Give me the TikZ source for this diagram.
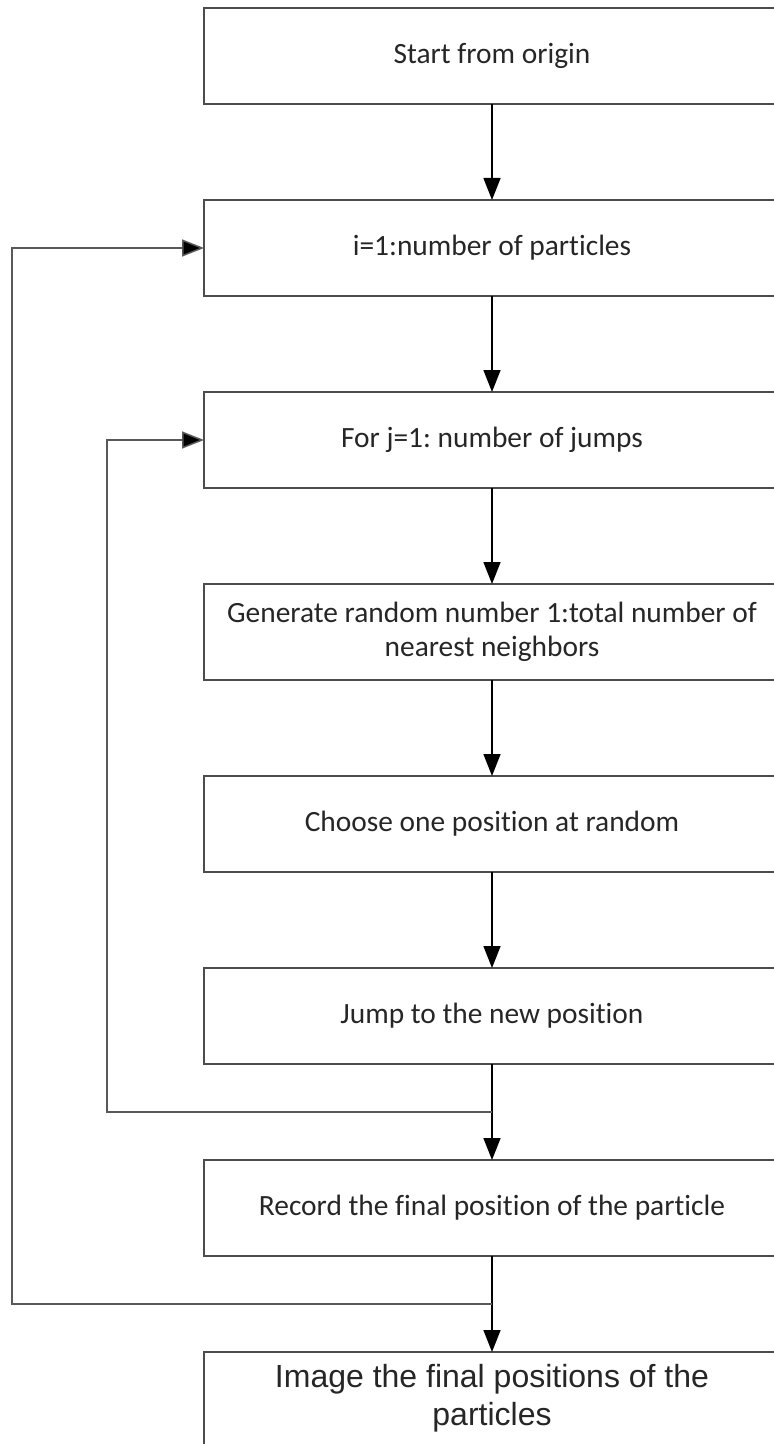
\documentclass[tikz,border=0pt]{standalone}
\usepackage{fontspec}
\setmainfont{Carlito}[Ligatures=NoCommon]
\newfontfamily\arialfont{Liberation Sans}
\usepackage{xcolor}
\usepackage{tikz}
\usetikzlibrary{arrows.meta}
\usetikzlibrary{calc,positioning}

\tikzset{
    stepbox/.style={draw=black!70, line width=1pt, outer sep=0pt, minimum width=288pt, minimum height=48pt,
        align=center, font=\fontsize{14.7}{17}\selectfont, text=black!85},
    endbox/.style={stepbox, minimum height=64pt, font=\arialfont\fontsize{16}{19}\selectfont},
    flow/.style={line width=0.75pt, -{Triangle[length=11pt,width=8.5pt]}},
    loop/.style={flow, draw=black!65, -{Triangle[length=11pt,width=8.5pt,fill=black]}}
}

\begin{document}
\frenchspacing
\begin{tikzpicture}[node distance=48pt]

    \useasboundingbox (0,0) rectangle (386.5pt,-722pt);

    % Boxes
    \node[stepbox] (origin) at (246pt,-28pt) {Start from origin};
    \node[stepbox, below=of origin] (particles) {i=1:number of particles};
    \node[stepbox, below=of particles] (jumps) {For j=1: number of jumps};
    \node[stepbox, below=of jumps] (generate) {Generate random number 1:total number of\\ nearest neighbors};
    \node[stepbox, below=of generate] (choose) {Choose one position at random};
    \node[stepbox, below=of choose] (jump) {Jump to the new position};
    \node[stepbox, below=of jump] (record) {Record the final position of the particle};
    \node[endbox, below=of record] (image) {Image the final positions of the\\ particles\rule[-21pt]{0pt}{0pt}};

    % Straight arrows
    \foreach \a/\b in {origin/particles, particles/jumps, jumps/generate,
                       generate/choose, choose/jump, jump/record, record/image} {
        \draw[flow] (\a.south) -- (\b.north);
    }

    % Inner loop (jumps)
    \coordinate (innerturn) at ($(jump.south)!0.5!(record.north)$);
    \coordinate (innerleft) at (53.5pt,0);
    \draw[loop] (innerturn) -- (innerturn -| innerleft) |- (jumps.west);

    % Outer loop (particles)
    \coordinate (outerturn) at ($(record.south)!0.5!(image.north)$);
    \coordinate (outerleft) at (6pt,0);
    \draw[loop] (outerturn) -- (outerturn -| outerleft) |- (particles.west);

\end{tikzpicture}
\end{document}
